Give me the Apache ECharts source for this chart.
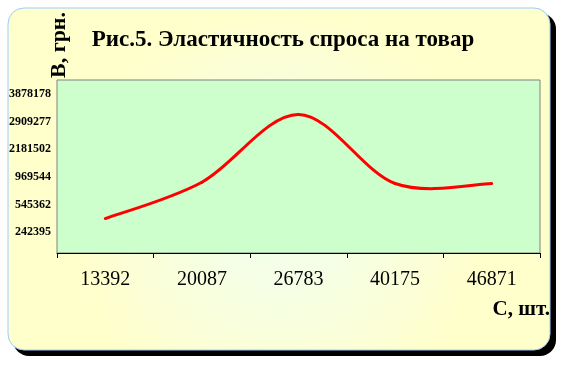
<!DOCTYPE html>
<html>
<head>
<meta charset="utf-8">
<script src="https://cdn.jsdelivr.net/npm/echarts@6/dist/echarts.min.js"></script>
<style>
html,body{margin:0;padding:0;background:#ffffff;}
#chart{width:566px;height:365px;}
</style>
</head>
<body>
<div id="chart"></div>
<script>
// ---- data ----
const titleText = 'Рис.5. Эластичность спроса на товар';
const yAxisName = 'В, грн.';
const xAxisName = 'С, шт.';
const categories = ['13392', '20087', '26783', '40175', '46871'];
const demandValues = [389900, 887700, 3170000, 867700, 867700];
const yTickLabels = [242395, 545362, 969544, 2181502, 2909277, 3878178];

// The reference's value axis places its labels at equal steps (nonlinear scale);
// map each value onto that label-step scale (piecewise linear between labels).
function toLabelScale(v) {
  const t = yTickLabels;
  let k = 0;
  while (k < t.length - 2 && v > t[k + 1]) k++;
  return k + (v - t[k]) / (t[k + 1] - t[k]);
}
const lineData = demandValues.map(toLabelScale);
const tickIdx = yTickLabels.map((_, i) => i);
const seriesData = lineData.map((v, i) => [i, v]);

const serif = '"Liberation Serif", "Times New Roman", serif';
const chart = echarts.init(document.getElementById('chart'));

// smoothed line (Catmull-Rom style, like a spreadsheet "smoothed line"),
// every anchor point taken from the axes through api.coord
function renderSegment(params, api) {
  const i = params.dataIndex;
  const n = seriesData.length;
  if (i >= n - 1) return null;
  const P = k => api.coord(seriesData[Math.max(0, Math.min(n - 1, k))]);
  const p0 = P(i - 1), p1 = P(i), p2 = P(i + 1), p3 = P(i + 2);
  const t = 1 / 6;
  return {
    type: 'bezierCurve',
    shape: {
      x1: p1[0], y1: p1[1], x2: p2[0], y2: p2[1],
      cpx1: p1[0] + (p2[0] - p0[0]) * t, cpy1: p1[1] + (p2[1] - p0[1]) * t,
      cpx2: p2[0] - (p3[0] - p1[0]) * t, cpy2: p2[1] - (p3[1] - p1[1]) * t
    },
    style: { stroke: '#FF0000', lineWidth: 3, fill: null, lineCap: 'round' }
  };
}

chart.setOption({
  animation: false,
  backgroundColor: '#ffffff',
  title: {
    text: titleText,
    left: 'center',
    top: 24,
    textStyle: { fontFamily: serif, fontWeight: 'bold', fontSize: 23, color: '#000' }
  },
  graphic: [
    { type: 'rect', z: -20, silent: true,
      shape: { x: 13, y: 13, width: 543, height: 343, r: 16 },
      style: { fill: '#000000' } },
    { type: 'rect', z: -10, silent: true,
      shape: { x: 8, y: 8, width: 542, height: 342, r: 16 },
      style: {
        fill: new echarts.graphic.RadialGradient(0.5, 0.6, 0.6, [
          { offset: 0, color: '#F0FEF2' },
          { offset: 1, color: '#FFFFCC' }
        ]),
        stroke: '#99CCFF', lineWidth: 1
      } },
    { type: 'text', z: 10, x: 59, y: 45, rotation: Math.PI / 2,
      style: { text: yAxisName, fontFamily: serif, fontWeight: 'bold', fontSize: 22,
               fill: '#000', align: 'center', verticalAlign: 'middle' } },
    { type: 'text', z: 10, x: 550, y: 310,
      style: { text: xAxisName, fontFamily: serif, fontWeight: 'bold', fontSize: 21,
               fill: '#000', align: 'right', verticalAlign: 'middle' } }
  ],
  grid: {
    left: 57, top: 80, width: 483, height: 173,
    show: true, backgroundColor: '#CCFFCC', borderColor: '#808080', borderWidth: 1
  },
  xAxis: {
    type: 'category',
    data: categories,
    boundaryGap: true,
    axisLine: { show: true, onZero: false, lineStyle: { color: '#000', width: 1 } },
    axisTick: { show: true, length: 5, inside: false, lineStyle: { color: '#000' } },
    axisLabel: { fontFamily: serif, fontSize: 20, color: '#000', margin: 17, interval: 0 },
    splitLine: { show: false }
  },
  yAxis: {
    type: 'value',
    min: -0.764,
    max: 5.52,
    axisLine: { show: false },
    axisTick: { show: false },
    splitLine: { show: false },
    axisLabel: {
      customValues: tickIdx,
      formatter: function (v) { return String(yTickLabels[Math.round(v)]); },
      fontFamily: serif, fontWeight: 'bold', fontSize: 12, color: '#000', margin: 6
    }
  },
  series: [{
    type: 'custom',
    data: seriesData,
    encode: { x: 0, y: 1 },
    renderItem: renderSegment,
    z: 5
  }]
});
</script>
</body>
</html>
